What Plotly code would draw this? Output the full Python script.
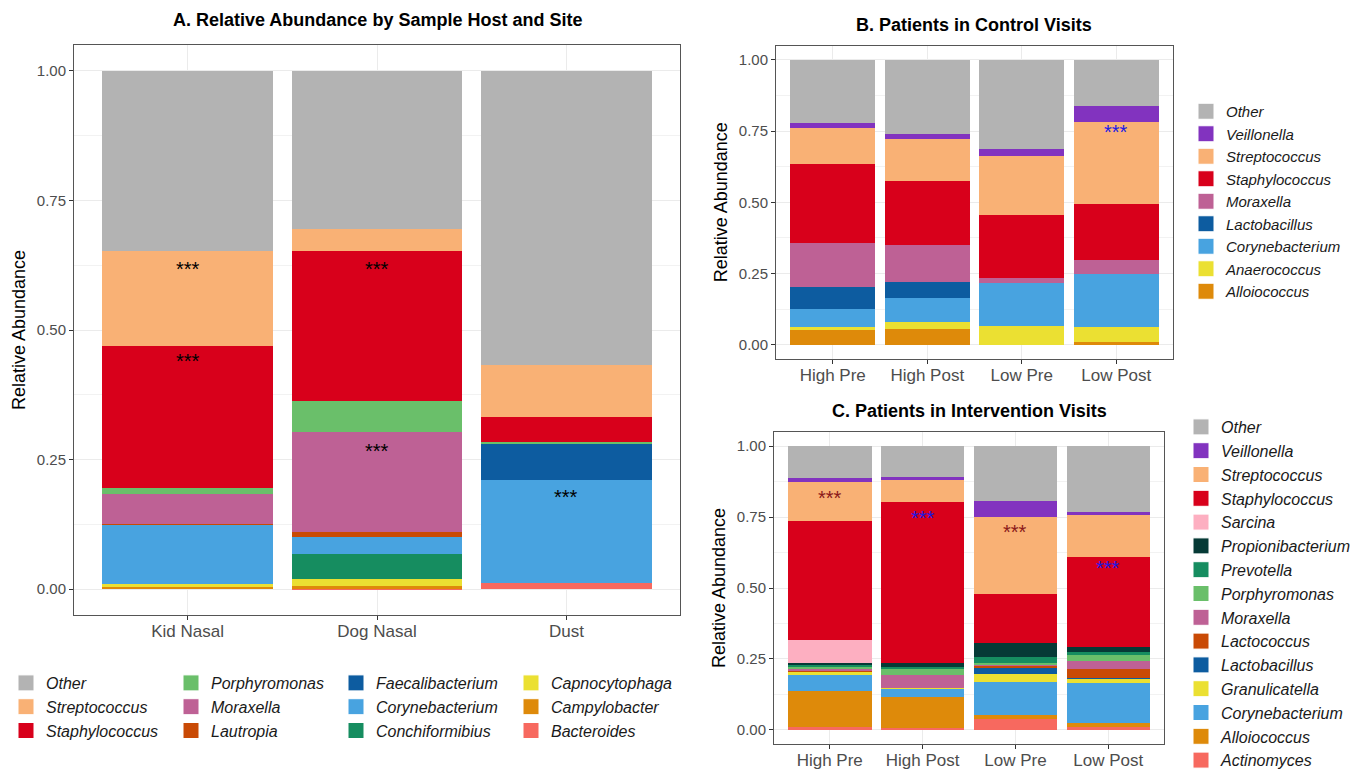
import plotly.graph_objects as go

FONT = "Liberation Sans, Arial, Helvetica, sans-serif"

# ---------------- Panel A : sample host and site ----------------
a_categories = ["Kid Nasal", "Dog Nasal", "Dust"]
a_genera = ["Bacteroides", "Campylobacter", "Capnocytophaga", "Conchiformibius",
            "Corynebacterium", "Faecalibacterium", "Lautropia", "Moraxella",
            "Porphyromonas", "Staphylococcus", "Streptococcus", "Other"]
a_values = [
    [0.000, 0.001, 0.012],   # Bacteroides
    [0.005, 0.005, 0.000],   # Campylobacter
    [0.005, 0.013, 0.000],   # Capnocytophaga
    [0.000, 0.049, 0.000],   # Conchiformibius
    [0.114, 0.032, 0.198],   # Corynebacterium
    [0.001, 0.000, 0.070],   # Faecalibacterium
    [0.001, 0.010, 0.000],   # Lautropia
    [0.057, 0.193, 0.000],   # Moraxella
    [0.012, 0.060, 0.004],   # Porphyromonas
    [0.274, 0.290, 0.048],   # Staphylococcus
    [0.184, 0.042, 0.100],   # Streptococcus
    [0.347, 0.305, 0.568],   # Other
]
a_star_cats = ["Kid Nasal", "Kid Nasal", "Dog Nasal", "Dog Nasal", "Dust"]
a_star_y = [0.627, 0.450, 0.627, 0.276, 0.187]
a_star_colors = ["black", "black", "black", "black", "black"]

# ---------------- Panel B : control visits ----------------
b_categories = ["High Pre", "High Post", "Low Pre", "Low Post"]
b_genera = ["Alloiococcus", "Anaerococcus", "Corynebacterium", "Lactobacillus",
            "Moraxella", "Staphylococcus", "Streptococcus", "Veillonella", "Other"]
b_values = [
    [0.053, 0.056, 0.000, 0.010],   # Alloiococcus
    [0.010, 0.025, 0.067, 0.053],   # Anaerococcus
    [0.063, 0.084, 0.151, 0.186],   # Corynebacterium
    [0.078, 0.056, 0.000, 0.000],   # Lactobacillus
    [0.154, 0.130, 0.017, 0.049],   # Moraxella
    [0.277, 0.224, 0.221, 0.197],   # Staphylococcus
    [0.126, 0.148, 0.207, 0.287],   # Streptococcus
    [0.018, 0.017, 0.025, 0.056],   # Veillonella
    [0.221, 0.260, 0.312, 0.162],   # Other
]
b_star_cats = ["Low Post"]
b_star_y = [0.765]
b_star_colors = ["#1A1AE6"]

# ---------------- Panel C : intervention visits ----------------
c_categories = ["High Pre", "High Post", "Low Pre", "Low Post"]
c_genera = ["Actinomyces", "Alloiococcus", "Corynebacterium", "Granulicatella",
            "Lactobacillus", "Lactococcus", "Moraxella", "Porphyromonas",
            "Prevotella", "Propionibacterium", "Sarcina", "Staphylococcus",
            "Streptococcus", "Veillonella", "Other"]
c_values = [
    [0.011, 0.005, 0.039, 0.010],   # Actinomyces
    [0.126, 0.111, 0.014, 0.015],   # Alloiococcus
    [0.057, 0.028, 0.116, 0.140],   # Corynebacterium
    [0.010, 0.004, 0.028, 0.015],   # Granulicatella
    [0.000, 0.000, 0.021, 0.003],   # Lactobacillus
    [0.006, 0.000, 0.007, 0.032],   # Lactococcus
    [0.003, 0.046, 0.004, 0.028],   # Moraxella
    [0.009, 0.021, 0.007, 0.021],   # Porphyromonas
    [0.007, 0.005, 0.021, 0.011],   # Prevotella
    [0.007, 0.016, 0.049, 0.017],   # Propionibacterium
    [0.081, 0.000, 0.000, 0.000],   # Sarcina
    [0.419, 0.567, 0.173, 0.317],   # Staphylococcus
    [0.137, 0.077, 0.271, 0.148],   # Streptococcus
    [0.014, 0.011, 0.056, 0.011],   # Veillonella
    [0.113, 0.109, 0.194, 0.232],   # Other
]
c_star_cats = ["High Pre", "High Post", "Low Pre", "Low Post"]
c_star_y = [0.835, 0.764, 0.715, 0.588]
c_star_colors = ["#8B1A1A", "#1A1AE6", "#8B1A1A", "#1A1AE6"]

# ---------------- colours ----------------
COLORS = {
    "Other": "#B3B3B3", "Streptococcus": "#F9B175", "Staphylococcus": "#D8001B",
    "Porphyromonas": "#6ABF6A", "Moraxella": "#BE6195", "Lautropia": "#C94A05",
    "Lactococcus": "#C94A05", "Faecalibacterium": "#0D5CA0", "Lactobacillus": "#0D5CA0",
    "Corynebacterium": "#48A3E0", "Conchiformibius": "#168D60", "Prevotella": "#168D60",
    "Capnocytophaga": "#EBE032", "Anaerococcus": "#EBE032", "Granulicatella": "#EBE032",
    "Campylobacter": "#DE8A0A", "Alloiococcus": "#DE8A0A", "Bacteroides": "#F7695F",
    "Actinomyces": "#F7695F", "Veillonella": "#8233BF", "Sarcina": "#FDAFC1",
    "Propionibacterium": "#063A36",
}

W, H = 1365, 769
fig = go.Figure()


def add_bars(cats, genera, values, xa, ya):
    for g, vals in zip(genera, values):
        fig.add_trace(go.Bar(
            x=cats, y=vals, name=g, width=0.9, xaxis=xa, yaxis=ya,
            marker=dict(color=COLORS[g], line=dict(width=0)),
            showlegend=False,
            hovertemplate="%{x}<br>" + g + ": %{y:.3f}<extra></extra>"))


def add_legend(names, legend_id, xa, ya):
    for g in names:
        fig.add_trace(go.Scatter(
            x=[None], y=[None], mode="markers", name=g, legend=legend_id,
            xaxis=xa, yaxis=ya, hoverinfo="skip", showlegend=True,
            marker=dict(symbol="square", size=16, color=COLORS[g],
                        line=dict(color="white", width=1))))


add_bars(a_categories, a_genera, a_values, "x", "y")
add_bars(b_categories, b_genera, b_values, "x2", "y2")
add_bars(c_categories, c_genera, c_values, "x3", "y3")

a_legend_order = a_genera[::-1]
for i in range(4):
    lid = "legend" if i == 0 else "legend%d" % (i + 1)
    add_legend(a_legend_order[3 * i:3 * i + 3], lid, "x", "y")
add_legend(b_genera[::-1], "legend5", "x2", "y2")
add_legend(c_genera[::-1], "legend6", "x3", "y3")


def px_x(p):
    return p / W


def px_y(p):
    return 1 - p / H


def xaxis_cfg(domain, anchor, cats):
    return dict(domain=domain, anchor=anchor, type="category",
                categoryorder="array", categoryarray=cats,
                range=[-0.6, len(cats) - 0.4],
                ticks="outside", ticklen=4, tickwidth=1, tickcolor="#333333",
                ticklabelstandoff=-3,
                tickfont=dict(family=FONT, size=17, color="#4D4D4D"),
                showgrid=True, gridcolor="#EBEBEB", gridwidth=1,
                showline=True, mirror=True, linecolor="#555555", linewidth=1,
                zeroline=False, fixedrange=True)


def yaxis_cfg(domain, anchor):
    return dict(domain=domain, anchor=anchor, range=[-0.05, 1.05],
                tickmode="array", tickvals=[0, 0.25, 0.5, 0.75, 1.0],
                ticktext=["0.00", "0.25", "0.50", "0.75", "1.00"],
                ticks="outside", ticklen=4, tickwidth=1, tickcolor="#333333",
                tickfont=dict(family=FONT, size=15, color="#4D4D4D"),
                showgrid=True, gridcolor="#EBEBEB", gridwidth=1,
                minor=dict(tickmode="array", tickvals=[0.125, 0.375, 0.625, 0.875],
                           showgrid=True, gridcolor="#F2F2F2", gridwidth=0.6),
                showline=True, mirror=True, linecolor="#555555", linewidth=1,
                zeroline=False, fixedrange=True,
                title=dict(text="Relative Abundance",
                           font=dict(family=FONT, size=18, color="black"),
                           standoff=6))


def legend_cfg(x, y, size):
    return dict(font=dict(family=FONT, size=size, color="#1A1A1A", style="italic"),
                bgcolor="rgba(0,0,0,0)", borderwidth=0, orientation="v",
                xanchor="left", yanchor="top", traceorder="normal",
                itemsizing="trace", tracegroupgap=0, itemclick=False,
                itemdoubleclick=False, x=px_x(x), y=px_y(y))


layout_legends = {}
a_leg_x = [6, 171, 336, 511]
for i, lx in enumerate(a_leg_x):
    lid = "legend" if i == 0 else "legend%d" % (i + 1)
    layout_legends[lid] = legend_cfg(lx, 666, 16)
layout_legends["legend5"] = legend_cfg(1186, 95, 15)
layout_legends["legend6"] = legend_cfg(1181, 410, 16)

annotations = []
title_font = dict(family=FONT, size=18, color="black")
annotations.append(dict(text="<b>A. Relative Abundance by Sample Host and Site</b>",
                        x=px_x(377), y=px_y(20), xref="paper", yref="paper",
                        showarrow=False, font=title_font, xanchor="center", yanchor="middle"))
annotations.append(dict(text="<b>B. Patients in Control Visits</b>",
                        x=px_x(974), y=px_y(25), xref="paper", yref="paper",
                        showarrow=False, font=title_font, xanchor="center", yanchor="middle"))
annotations.append(dict(text="<b>C. Patients in Intervention Visits</b>",
                        x=px_x(969), y=px_y(411), xref="paper", yref="paper",
                        showarrow=False, font=title_font, xanchor="center", yanchor="middle"))


def add_stars(cats, ys, colors, xr, yr):
    for c, yv, col in zip(cats, ys, colors):
        annotations.append(dict(text="***", x=c, y=yv, xref=xr, yref=yr,
                                showarrow=False, yanchor="middle", yshift=-5,
                                font=dict(family=FONT, size=20, color=col)))


add_stars(a_star_cats, a_star_y, a_star_colors, "x", "y")
add_stars(b_star_cats, b_star_y, b_star_colors, "x2", "y2")
add_stars(c_star_cats, c_star_y, c_star_colors, "x3", "y3")

fig.update_layout(
    width=W, height=H,
    margin=dict(l=0, r=0, t=0, b=0, autoexpand=False),
    paper_bgcolor="white", plot_bgcolor="white",
    barmode="stack", bargap=0.1,
    font=dict(family=FONT),
    xaxis=xaxis_cfg([px_x(74), px_x(680)], "y", a_categories),
    yaxis=yaxis_cfg([px_y(615), px_y(45)], "x"),
    xaxis2=xaxis_cfg([px_x(776), px_x(1173)], "y2", b_categories),
    yaxis2=yaxis_cfg([px_y(359), px_y(45.5)], "x2"),
    xaxis3=xaxis_cfg([px_x(774), px_x(1164)], "y3", c_categories),
    yaxis3=yaxis_cfg([px_y(744), px_y(432)], "x3"),
    annotations=annotations,
    **layout_legends,
)

fig.write_html("out.html", config={"displayModeBar": False},
               post_script="document.body.style.margin='0';")
